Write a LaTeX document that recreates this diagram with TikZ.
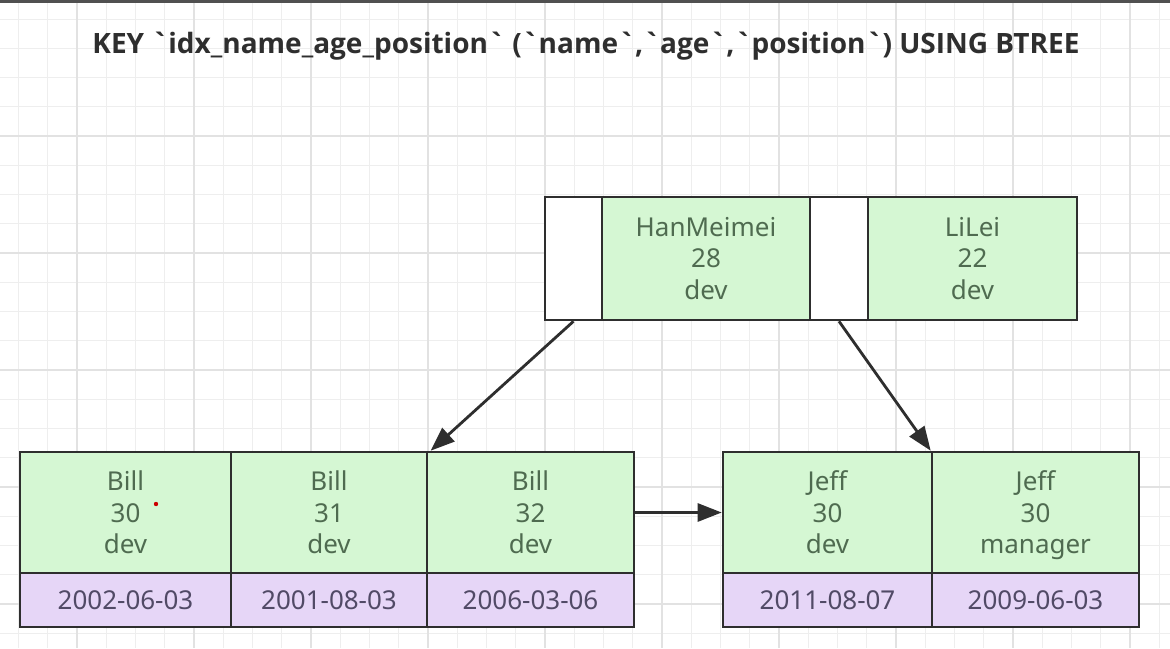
\documentclass[tikz,border=0pt]{standalone}
\usepackage{fontspec}
\setmainfont{Noto Sans}
\newfontfamily\titlefont{Open Sans}
\usetikzlibrary{arrows.meta,calc}
\definecolor{gridminor}{HTML}{EEEEEE}
\definecolor{gridmajor}{HTML}{E2E2E2}
\definecolor{bd}{HTML}{2E2E2E}
\definecolor{keyfill}{HTML}{D5F7D3}
\definecolor{rowfill}{HTML}{E6D6F7}
\definecolor{keytext}{HTML}{4F6B50}
\definecolor{rowtext}{HTML}{514A66}
\definecolor{topbar}{HTML}{505050}
\newcommand{\bq}{\char96\relax}
\tikzset{
  cell/.style={draw=bd, line width=2.6pt, inner sep=0pt, align=center,
    font=\fontsize{26}{31.5}\selectfont},
  ptr/.style={cell, fill=white, minimum width=#1, minimum height=123pt},
  key/.style={cell, fill=keyfill, text=keytext, minimum width=#1, minimum height=123pt},
  leafkey/.style={cell, fill=keyfill, text=keytext, minimum width=#1, minimum height=121pt},
  leafrow/.style={cell, fill=rowfill, text=rowtext, minimum width=#1, minimum height=54pt},
  link/.style={draw=bd, line width=2.8pt, -{Triangle[length=24pt,width=18pt]}}
}
\begin{document}
\begin{tikzpicture}[x=1pt,y=-1pt]
\useasboundingbox (0,0) rectangle (1170,648);
\fill[white] (0,0) rectangle (1170,648);
% grid
\foreach \i in {0,...,39} {
  \draw[gridminor, line width=1pt] ({18.5+29.25*\i},0) -- ({18.5+29.25*\i},648);
}
\foreach \i in {0,...,22} {
  \draw[gridminor, line width=1pt] (0,{19+29.25*\i}) -- (1170,{19+29.25*\i});
}
\foreach \i in {0,...,9} {
  \draw[gridmajor, line width=1.3pt] ({77+117*\i},0) -- ({77+117*\i},648);
}
\foreach \i in {0,...,4} {
  \draw[gridmajor, line width=1.3pt] (0,{136+117*\i}) -- (1170,{136+117*\i});
}
\fill[topbar] (0,0) rectangle (1170,3);

% title
\node[font=\titlefont\fontsize{28}{34}\selectfont\bfseries, text=black!82] (title) at (586,46)
  {KEY \bq idx\_name\_age\_position\bq{} (\bq name\bq,\bq age\bq,\bq position\bq) USING BTREE};

% root node
\node[ptr=57pt] (p1) at (573.5,258.5) {};
\node[key=208pt] (k1) at (706,258.5) {HanMeimei\\28\\dev};
\node[ptr=58pt] (p2) at (839,258.5) {};
\node[key=209pt] (k2) at (972.5,258.5) {LiLei\\22\\dev};

% left leaf
\node[leafkey=211pt] (a1) at (125.5,512.5) {Bill\\30\\dev};
\node[leafkey=196pt] (a2) at (329,512.5) {Bill\\31\\dev};
\node[leafkey=207pt] (a3) at (530.5,512.5) {Bill\\32\\dev};
\node[leafrow=211pt] (r1) at (125.5,600) {2002-06-03};
\node[leafrow=196pt] (r2) at (329,600) {2001-08-03};
\node[leafrow=207pt] (r3) at (530.5,600) {2006-03-06};

% right leaf
\node[leafkey=209pt] (b1) at (827.5,512.5) {Jeff\\30\\dev};
\node[leafkey=207pt] (b2) at (1035.5,512.5) {Jeff\\30\\\raisebox{0pt}[\height][0pt]{manager}};
\node[leafrow=209pt] (s1) at (827.5,600) {2011-08-07};
\node[leafrow=207pt] (s2) at (1035.5,600) {2009-06-03};

% red dot
\fill[red!80!black] (156,504) circle (2.2pt);

% connectors
\coordinate (t1) at ($(a3.north west)+(5,0)$);
\draw[link] (p1.south) -- (t1);
\draw[link] (p2.south) -- (b2.north west);
\draw[link] (a3.east) -- (b1.west);
\end{tikzpicture}
\end{document}
